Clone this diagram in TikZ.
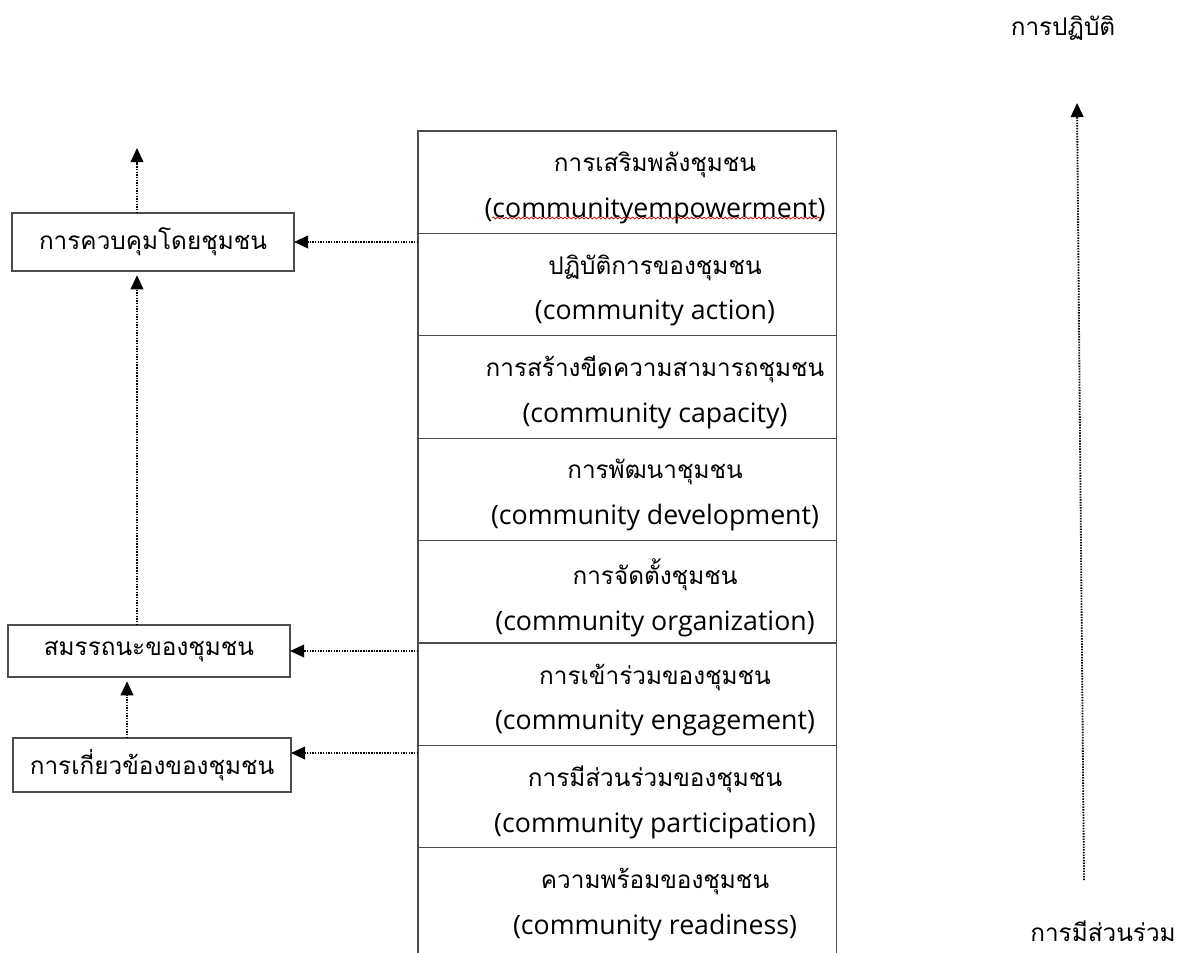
\documentclass[tikz,border=0pt]{standalone}
\usepackage{fontspec}
\setmainfont{Open Sans}
\newfontfamily\thai[Script=Thai]{Loma}
\usetikzlibrary{arrows.meta, calc, decorations.pathmorphing}
\tikzstyle{rowbox} = [draw=black!70,line width=0.8pt,minimum width=10.45cm,inner sep=0pt,outer sep=0pt]
\tikzstyle{rowtext} = [inner sep=0pt,align=center,font=\fontsize{19}{32.6}\selectfont]
\tikzstyle{sidebox} = [draw=black!70,line width=0.8pt,inner sep=0pt,outer sep=0pt,font=\thai\fontsize{17.3}{20}\selectfont]
\tikzstyle{flow} = [line width=1.3pt,dash pattern=on 1pt off 0.9pt,-{Triangle[length=10pt,width=9pt]}]
\tikzstyle{axislabel} = [font=\thai\fontsize{17.3}{20}\selectfont]

\begin{document}
\begin{tikzpicture}[x=0.025cm,y=-0.025cm]
	\useasboundingbox (0,0) rectangle (1187,952);
	
	% stacked levels, lowest at the bottom
	\foreach \th/\en/\h [count=\i] in {%
		การเสริมพลังชุมชน/(communityempowerment)/2.56cm,
		ปฏิบัติการของชุมชน/(community action)/2.56cm,
		การสร้างขีดความสามารถชุมชน/(community capacity)/2.56cm,
		การพัฒนาชุมชน/(community development)/2.56cm,
		การจัดตั้งชุมชน/(community organization)/2.56cm,
		การเข้าร่วมของชุมชน/(community engagement)/2.56cm,
		การมีส่วนร่วมของชุมชน/(community participation)/2.56cm,
		ความพร้อมของชุมชน/(community readiness)/2.76cm}
	{
		\node[rowbox,anchor=north,minimum height=\h] (r\i) at (627,{131+102.4*(\i-1)}) {};
		\node[rowtext] (w\i) at (655,{131+102.4*(\i-1)+57}) {{\thai\fontsize{17.3}{32.6}\selectfont \th}\\ \en};
	}
	\draw[red!80!black,line width=0.5pt,decorate,decoration={snake,amplitude=0.7pt,segment length=3pt}]
		($(r1.north west)+(74,87)$) -- ($(r1.north west)+(402,87)$);
	
	\node[sidebox,minimum width=7.05cm,minimum height=1.45cm] (b1) at (153,242) {การควบคุมโดยชุมชน};
	\node[sidebox,minimum width=7.05cm,minimum height=1.3cm] (b2) at (149,651) {สมรรถนะของชุมชน};
	\node[sidebox,minimum width=6.95cm,minimum height=1.35cm] (b3) at (152,765) {การเกี่ยวข้องของชุมชน};
	
	\coordinate (t1) at (137,148);
	\coordinate (t2) at (127,0);
	\draw[flow] (b1.north -| t1) -- (t1);
	\draw[flow,shorten >=3pt] (b2.north -| t1) -- (b1.south -| t1);
	\draw[flow,shorten >=3pt] (b3.north -| t2) -- (b2.south -| t2);
	
	\draw[flow] (b1.east -| r1.west) -- (b1.east);
	\draw[flow] (b2.east -| r6.west) -- (b2.east);
	\draw[flow] ([yshift=0.3cm]b3.east -| r7.west) -- ([yshift=0.3cm]b3.east);
	
	% practice / participation axis
	\node[axislabel] (prac) at (1063,28) {การปฏิบัติ};
	\node[axislabel] (part) at (1103,931) {การมีส่วนร่วม};
	\coordinate (lo) at (1084,880);
	\coordinate (hi) at (1077,103);
	\draw[flow] (lo) -- (hi);
\end{tikzpicture}
\end{document}
